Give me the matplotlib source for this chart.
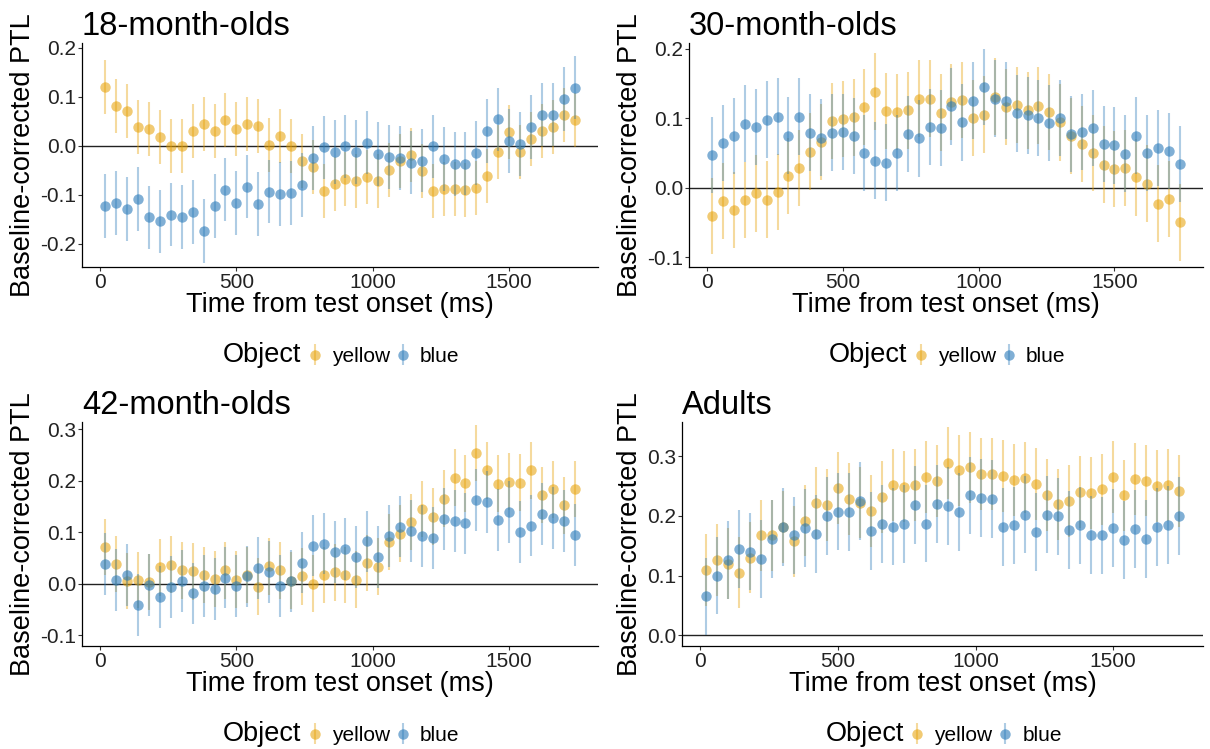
import numpy as np
import matplotlib
matplotlib.use("Agg")
import matplotlib.pyplot as plt
from matplotlib.patches import Rectangle

plt.rcParams.update({
    "font.family": ["Liberation Sans", "DejaVu Sans"],
    "axes.linewidth": 0.9,
})

# time bins (ms) shared by all panels
time_ms = np.arange(20, 1760, 40)

groups = ["18-month-olds", "30-month-olds", "42-month-olds", "Adults"]

p18_yellow = [0.120, 0.082, 0.071, 0.038, 0.035, 0.019, 0.000, -0.001, 0.031, 0.044,
              0.031, 0.052, 0.035, 0.045, 0.041, 0.001, 0.020, 0.000, -0.031, -0.043,
              -0.092, -0.077, -0.068, -0.071, -0.064, -0.071, -0.050, -0.030, -0.019, -0.051,
              -0.092, -0.087, -0.087, -0.089, -0.086, -0.062, -0.013, 0.029, -0.012, 0.014,
              0.030, 0.039, 0.064, 0.053]
p18_blue = [-0.123, -0.116, -0.129, -0.108, -0.146, -0.154, -0.140, -0.145, -0.135, -0.173,
            -0.123, -0.089, -0.117, -0.083, -0.118, -0.093, -0.098, -0.096, -0.079, -0.024,
            -0.003, -0.012, -0.001, -0.013, 0.007, -0.016, -0.022, -0.025, -0.034, -0.030,
            -0.001, -0.026, -0.037, -0.036, -0.014, 0.031, 0.054, 0.010, 0.004, 0.039,
            0.064, 0.064, 0.096, 0.119]
p30_yellow = [-0.041, -0.019, -0.032, -0.018, -0.008, -0.017, -0.006, 0.017, 0.028, 0.052,
              0.066, 0.096, 0.099, 0.101, 0.116, 0.138, 0.110, 0.109, 0.111, 0.128,
              0.128, 0.108, 0.123, 0.126, 0.100, 0.105, 0.131, 0.116, 0.119, 0.111,
              0.118, 0.109, 0.094, 0.074, 0.063, 0.050, 0.033, 0.027, 0.028, 0.015,
              0.006, -0.023, -0.016, -0.050]
p30_blue = [0.047, 0.064, 0.074, 0.092, 0.087, 0.098, 0.102, 0.075, 0.102, 0.079,
            0.072, 0.079, 0.080, 0.074, 0.050, 0.039, 0.036, 0.050, 0.077, 0.071,
            0.087, 0.086, 0.117, 0.094, 0.125, 0.145, 0.128, 0.125, 0.107, 0.104,
            0.100, 0.093, 0.100, 0.077, 0.080, 0.086, 0.063, 0.061, 0.049, 0.075,
            0.050, 0.057, 0.053, 0.034]
p42_yellow = [0.071, 0.038, 0.005, 0.007, 0.003, 0.032, 0.037, 0.026, 0.024, 0.017,
              0.009, 0.026, 0.008, 0.017, -0.006, 0.034, 0.026, 0.006, 0.014, 0.000,
              0.017, 0.022, 0.017, 0.008, 0.040, 0.033, 0.081, 0.097, 0.120, 0.145,
              0.130, 0.165, 0.206, 0.195, 0.254, 0.220, 0.194, 0.198, 0.196, 0.220,
              0.172, 0.183, 0.152, 0.184]
p42_blue = [0.038, 0.007, 0.017, -0.041, -0.003, -0.026, -0.006, 0.005, -0.019, -0.005,
            -0.010, 0.012, -0.004, 0.014, 0.030, 0.023, -0.004, 0.005, 0.041, 0.074,
            0.078, 0.061, 0.067, 0.052, 0.082, 0.052, 0.093, 0.111, 0.102, 0.093,
            0.088, 0.125, 0.121, 0.117, 0.163, 0.159, 0.123, 0.139, 0.101, 0.113,
            0.136, 0.128, 0.122, 0.095]
adult_yellow = [0.109, 0.126, 0.120, 0.105, 0.130, 0.167, 0.167, 0.181, 0.157, 0.192,
                0.221, 0.218, 0.246, 0.228, 0.222, 0.208, 0.231, 0.251, 0.249, 0.252,
                0.265, 0.258, 0.288, 0.276, 0.281, 0.270, 0.270, 0.267, 0.260, 0.264,
                0.253, 0.235, 0.219, 0.225, 0.240, 0.238, 0.244, 0.265, 0.234, 0.262,
                0.259, 0.250, 0.252, 0.242]
adult_blue = [0.065, 0.100, 0.126, 0.144, 0.140, 0.128, 0.161, 0.181, 0.167, 0.180,
              0.169, 0.200, 0.207, 0.206, 0.225, 0.175, 0.186, 0.182, 0.186, 0.218,
              0.187, 0.220, 0.216, 0.206, 0.234, 0.230, 0.228, 0.181, 0.184, 0.202,
              0.173, 0.202, 0.199, 0.176, 0.184, 0.168, 0.167, 0.180, 0.160, 0.178,
              0.161, 0.181, 0.185, 0.200]

yellow_means = [p18_yellow, p30_yellow, p42_yellow, adult_yellow]
blue_means = [p18_blue, p30_blue, p42_blue, adult_blue]
# approximate half-width of the error bars per panel
yellow_err = [0.055, 0.055, 0.055, 0.060]
blue_err = [0.065, 0.055, 0.060, 0.065]

y_ticks = [[-0.2, -0.1, 0.0, 0.1, 0.2], [-0.1, 0.0, 0.1, 0.2],
           [-0.1, 0.0, 0.1, 0.2, 0.3], [0.0, 0.1, 0.2, 0.3]]
y_lims = [(-0.247, 0.21), (-0.114, 0.208), (-0.121, 0.314), (-0.018, 0.357)]

YELLOW = "#E69F00"
BLUE = "#2B7BBA"

# axes boxes in pixels: left, top, right, bottom
boxes = [(82, 43, 598, 267), (689, 43, 1203, 267),
         (82, 422, 598, 646), (682, 422, 1203, 646)]
W, H = 1210, 749
legend_y = [355, 355, 734, 734]

fig = plt.figure(figsize=(W / 100, H / 100), dpi=100)

for i, name in enumerate(groups):
    l, t, r, b = boxes[i]
    ax = fig.add_axes([l / W, 1 - b / H, (r - l) / W, (b - t) / H])
    ax.axhline(0, color="#222222", lw=1.0, zorder=1)
    hy = ax.errorbar(time_ms, yellow_means[i], yerr=yellow_err[i], fmt="o",
                     color=YELLOW, ms=7.5, alpha=0.55, elinewidth=1.5,
                     mew=0, capsize=0, zorder=2)
    for line in hy[2]:
        line.set_alpha(0.38)
    hb = ax.errorbar(time_ms, blue_means[i], yerr=blue_err[i], fmt="o",
                     color=BLUE, ms=7.5, alpha=0.6, elinewidth=1.5,
                     mew=0, capsize=0, zorder=3)
    for line in hb[2]:
        line.set_alpha(0.38)

    ax.set_xlim(-66, 1826)
    ax.set_ylim(*y_lims[i])
    ax.set_xticks([0, 500, 1000, 1500])
    ax.set_yticks(y_ticks[i])
    ax.set_yticklabels([f"{v:.1f}" for v in y_ticks[i]])
    for s in ["top", "right"]:
        ax.spines[s].set_visible(False)
    ax.tick_params(length=2.6, width=0.8, color="#333333", labelsize=15,
                   labelcolor="#222222", pad=1.5)
    ax.set_xlabel("Time from test onset (ms)", fontsize=19.5, labelpad=0)
    ax.set_ylabel("Baseline-corrected PTL", fontsize=19.5, labelpad=3)
    ax.set_title(name, loc="left", fontsize=23.5, pad=6)

    blank = Rectangle((0, 0), 1, 1, fill=False, edgecolor="none", visible=False)
    cx = (l + r) / 2 / W
    leg = ax.legend([blank, hy, hb], ["Object", "yellow", "blue"], ncol=3,
                    loc="center", bbox_to_anchor=(cx - 0.009, 1 - legend_y[i] / H),
                    bbox_transform=fig.transFigure, frameon=False,
                    fontsize=15, handlelength=0.7, handletextpad=0.47,
                    columnspacing=0.28)
    leg.get_texts()[0].set_fontsize(19.5)

fig.savefig("out.png", dpi=100)
